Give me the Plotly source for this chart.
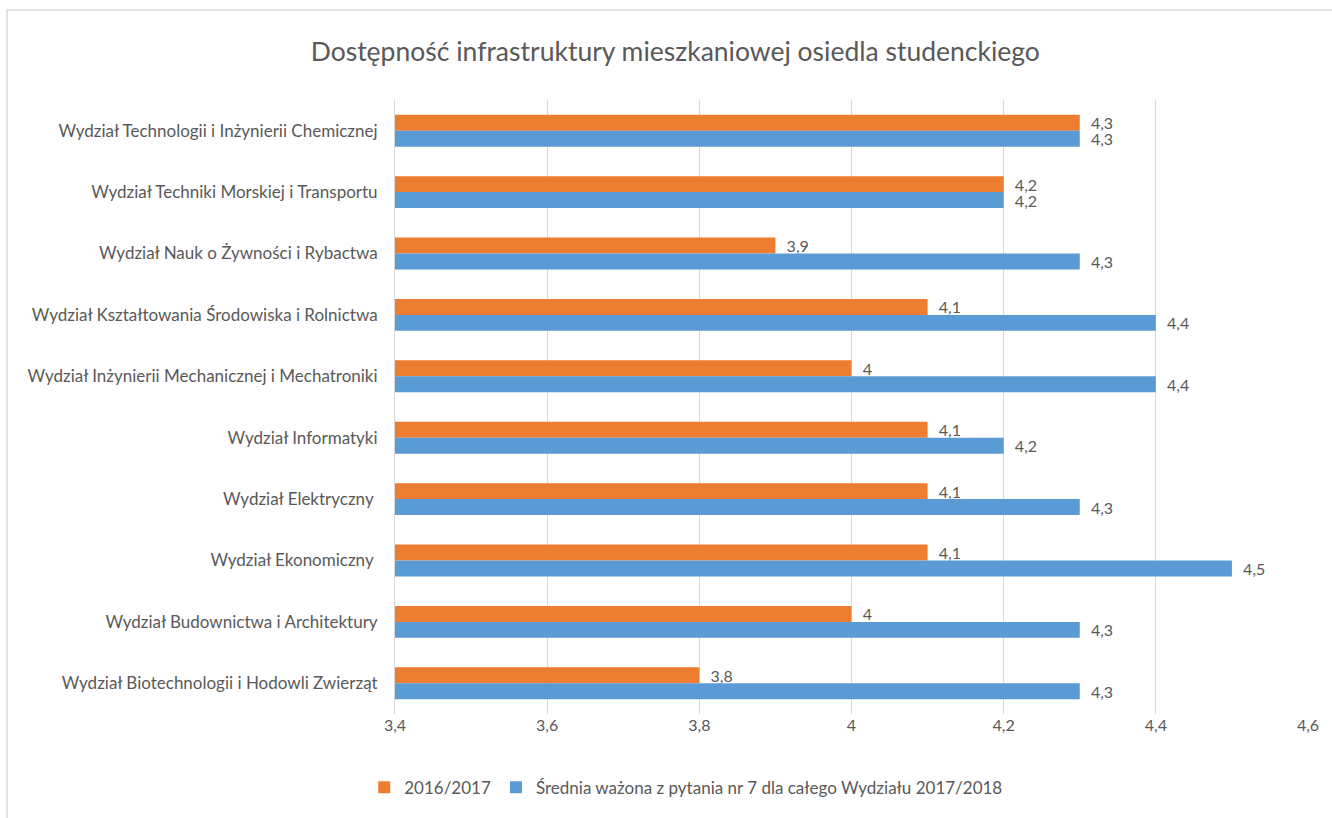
import plotly.graph_objects as go

categories = [
    "Wydział Technologii i Inżynierii Chemicznej",
    "Wydział Techniki Morskiej i Transportu",
    "Wydział Nauk o Żywności i Rybactwa",
    "Wydział Kształtowania Środowiska i Rolnictwa",
    "Wydział Inżynierii Mechanicznej i Mechatroniki",
    "Wydział Informatyki",
    "Wydział Elektryczny ",
    "Wydział Ekonomiczny ",
    "Wydział Budownictwa i Architektury",
    "Wydział Biotechnologii i Hodowli Zwierząt",
]
values_2016 = [4.3, 4.2, 3.9, 4.1, 4.0, 4.1, 4.1, 4.1, 4.0, 3.8]
values_2018 = [4.3, 4.2, 4.3, 4.4, 4.4, 4.2, 4.3, 4.5, 4.3, 4.3]
series_names = ["2016/2017", "Średnia ważona z pytania nr 7 dla całego Wydziału 2017/2018"]
x_ticks = [3.4, 3.6, 3.8, 4.0, 4.2, 4.4, 4.6]

def fmt(v):
    s = ("%g" % v).replace(".", ",")
    return "\u00a0\u00a0" + s

FONT = "Lato, 'Open Sans', sans-serif"
GRAY = "#595959"

fig = go.Figure()
fig.add_trace(go.Bar(
    y=categories, x=values_2016, orientation="h", name=series_names[0],
    marker=dict(color="#ED7D31", line=dict(width=0)),
    text=[fmt(v) for v in values_2016], textposition="outside",
    constraintext="none", cliponaxis=False,
    textfont=dict(family=FONT, size=16, color=GRAY),
))
fig.add_trace(go.Bar(
    y=categories, x=values_2018, orientation="h", name=series_names[1],
    marker=dict(color="#5B9BD5", line=dict(width=0)),
    text=[fmt(v) for v in values_2018], textposition="outside",
    constraintext="none", cliponaxis=False,
    textfont=dict(family=FONT, size=16, color=GRAY),
))

fig.update_layout(
    width=1332, height=818,
    barmode="group", bargap=0.48, bargroupgap=0,
    separators=", ",
    paper_bgcolor="white", plot_bgcolor="white",
    margin=dict(l=395, r=24, t=100, b=104),
    font=dict(family=FONT, size=17, color=GRAY),
    title=dict(text="Dostępność infrastruktury mieszkaniowej osiedla studenckiego",
               x=0.507, xref="container", xanchor="center",
               y=1 - 52 / 818, yref="container", yanchor="middle",
               font=dict(family=FONT, size=26.5, color=GRAY)),
    xaxis=dict(range=[3.4, 4.6], tickvals=x_ticks, showgrid=True,
               gridcolor="#D9D9D9", gridwidth=1, zeroline=False,
               showline=False, ticks="", tickfont=dict(size=16, color=GRAY)),
    yaxis=dict(autorange="reversed", showgrid=False, showline=True,
               linecolor="#D9D9D9", linewidth=1, ticks="",
               ticklabelstandoff=13,
               tickfont=dict(size=17, color=GRAY)),
    legend=dict(orientation="h", x=0.319, xanchor="center", y=-0.12,
                yanchor="middle", font=dict(size=17, color=GRAY),
                traceorder="normal"),
    showlegend=True,
    shapes=[dict(type="rect", xref="paper", yref="paper",
                 x0=(7 - 395) / 913, x1=(1345 - 395) / 913,
                 y0=(714 - 830) / 614, y1=(714 - 10) / 614,
                 line=dict(color="#D9D9D9", width=1.5), fillcolor="rgba(0,0,0,0)",
                 layer="below")],
)

fig.write_html("out.html", config={"displayModeBar": False},
               post_script="document.body.style.margin='0';")
